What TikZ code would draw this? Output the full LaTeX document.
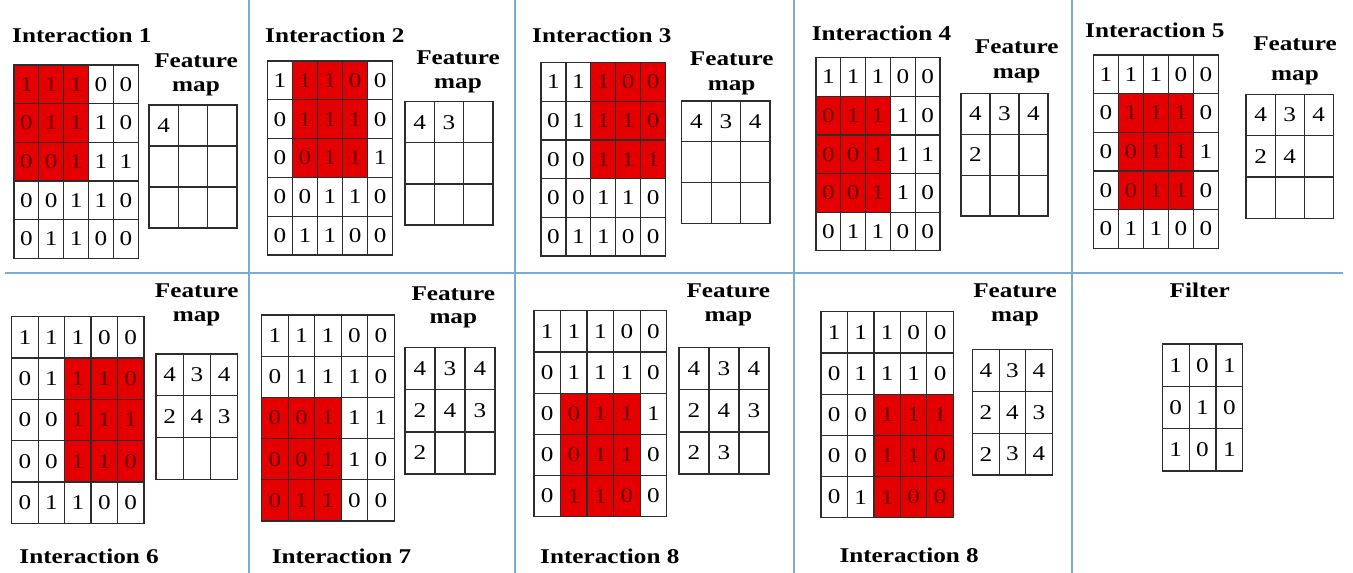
\documentclass[tikz,border=0pt]{standalone}
\usepackage{fontspec}
\setmainfont{Liberation Serif}[FakeStretch=1.2]
\definecolor{cellred}{RGB}{228,0,0}
\definecolor{redtext}{RGB}{105,0,0}
\definecolor{divider}{RGB}{125,170,212}
\definecolor{gridgray}{RGB}{45,45,45}
\tikzset{
  gridline/.style={draw=gridgray, line width=1.2pt, line cap=rect},
  digit/.style={font=\fontsize{21}{23}\selectfont, inner sep=0pt},
  titletext/.style={font=\fontsize{21}{23}\selectfont\bfseries, inner sep=0pt, anchor=base west},
  fmlabel/.style={font=\fontsize{21}{23}\selectfont\bfseries, inner sep=0pt, anchor=base},
  divline/.style={draw=divider, line width=1.2pt},
}
\newcommand\inputmat[7]{%
  \pgfmathsetmacro\cw{(#4-#2)/5}%
  \pgfmathsetmacro\ch{(#5-#3)/5}%
  \fill[cellred] (#2+#6*\cw,#3+#7*\ch) rectangle (#2+#6*\cw+3*\cw,#3+#7*\ch+3*\ch);
  \foreach \i in {0,...,5}{%
    \draw[gridline] (#2+\i*\cw,#3) -- (#2+\i*\cw,#5);
    \draw[gridline] (#2,#3+\i*\ch) -- (#4,#3+\i*\ch);
  }
  \foreach \rowvals [count=\r from 0] in {{1,1,1,0,0},{0,1,1,1,0},{0,0,1,1,1},{0,0,1,1,0},{0,1,1,0,0}}{%
    \foreach \v [count=\c from 0] in \rowvals {%
      \pgfmathtruncatemacro\isred{and(and(\c>=#6,\c<#6+3),and(\r>=#7,\r<#7+3))}%
      \ifnum\isred=1 \def\dcol{redtext}\else\def\dcol{black}\fi
      \node[digit, text=\dcol] (#1-\r-\c) at (#2+\c*\cw+0.5*\cw,#3+\r*\ch+0.5*\ch) {\v};
    }
  }
}
\newcommand\featmap[5]{%
  \pgfmathsetmacro\fw{(#4-#2)/3}%
  \pgfmathsetmacro\fh{(#5-#3)/3}%
  \foreach \i in {0,...,3}{%
    \draw[gridline] (#2+\i*\fw,#3) -- (#2+\i*\fw,#5);
    \draw[gridline] (#2,#3+\i*\fh) -- (#4,#3+\i*\fh);
  }
  \foreach \r in {0,1,2}{\foreach \c in {0,1,2}{%
    \coordinate (#1-\r-\c) at (#2+\c*\fw+0.5*\fw,#3+\r*\fh+0.5*\fh);}}
}
\newcommand\fvals[2]{%
  \foreach \r/\c/\v in {#2}{\node[digit] (#1v-\r-\c) at (#1-\r-\c) {\v};}
}
\begin{document}
\begin{tikzpicture}[x=1pt,y=-1pt]
\useasboundingbox (0,0) rectangle (1353,573);
% dividers
\draw[divline] (249,0) -- (249,573);
\draw[divline] (515,0) -- (515,573);
\draw[divline] (794,0) -- (794,573);
\draw[divline] (1072,0) -- (1072,573);
\draw[divline] (5,273) -- (1343,273);
% panel 1
\node[titletext] (t1) at (12,42) {Interaction 1};
\inputmat{m1}{14}{65}{138.3}{258.3}{0}{0}
\node[fmlabel] (f1a) at (196,67) {Feature};
\node[fmlabel] (f1b) at (196,91) {map};
\featmap{fm1}{149}{105}{237}{228}
\fvals{fm1}{0/0/4}
% panel 2
\node[titletext] (t2) at (265,42) {Interaction 2};
\inputmat{m2}{267.3}{61}{392.7}{255}{1}{0}
\node[fmlabel] (f2a) at (458,64) {Feature};
\node[fmlabel] (f2b) at (458,88) {map};
\featmap{fm2}{405}{101.7}{493}{225}
\fvals{fm2}{0/0/4,0/1/3}
% panel 3
\node[titletext] (t3) at (532,42) {Interaction 3};
\inputmat{m3}{541}{62.7}{665.7}{256}{2}{0}
\node[fmlabel] (f3a) at (731.7,65) {Feature};
\node[fmlabel] (f3b) at (731.7,90) {map};
\featmap{fm3}{681.7}{101}{770}{223.3}
\fvals{fm3}{0/0/4,0/1/3,0/2/4}
% panel 4
\node[titletext] (t4) at (811.7,40.3) {Interaction 4};
\inputmat{m4}{816}{57.7}{940}{250.7}{0}{1}
\node[fmlabel] (f4a) at (1016.7,53.7) {Feature};
\node[fmlabel] (f4b) at (1016.7,78) {map};
\featmap{fm4}{961}{93.3}{1048}{216}
\fvals{fm4}{0/0/4,0/1/3,0/2/4,1/0/2}
% panel 5
\node[titletext] (t5) at (1085,37) {Interaction 5};
\inputmat{m5}{1093.3}{55}{1218.3}{248.3}{1}{1}
\node[fmlabel] (f5a) at (1295,50.3) {Feature};
\node[fmlabel] (f5b) at (1295,80) {map};
\featmap{fm5}{1246}{94.3}{1333.3}{218.3}
\fvals{fm5}{0/0/4,0/1/3,0/2/4,1/0/2,1/1/4}
% panel 6
\inputmat{m6}{11.7}{316.7}{144}{523.3}{2}{1}
\node[fmlabel] (f6a) at (196.7,297) {Feature};
\node[fmlabel] (f6b) at (196.7,321.7) {map};
\featmap{fm6}{156}{354}{237.7}{479.3}
\fvals{fm6}{0/0/4,0/1/3,0/2/4,1/0/2,1/1/4,1/2/3}
\node[titletext] (t6) at (19.3,563.7) {Interaction 6};
% panel 7
\inputmat{m7}{261.7}{315}{394.3}{521}{0}{2}
\node[fmlabel] (f7a) at (453.3,300.3) {Feature};
\node[fmlabel] (f7b) at (453.3,323.3) {map};
\featmap{fm7}{405}{347.7}{495}{474}
\fvals{fm7}{0/0/4,0/1/3,0/2/4,1/0/2,1/1/4,1/2/3,2/0/2}
\node[titletext] (t7) at (271.7,563.7) {Interaction 7};
% panel 8
\inputmat{m8}{534}{310.7}{666.7}{516.7}{1}{2}
\node[fmlabel] (f8a) at (728.3,297) {Feature};
\node[fmlabel] (f8b) at (728.3,321.7) {map};
\featmap{fm8}{679}{347.7}{769}{474}
\fvals{fm8}{0/0/4,0/1/3,0/2/4,1/0/2,1/1/4,1/2/3,2/0/2,2/1/3}
\node[titletext] (t8) at (540,563.7) {Interaction 8};
% panel 9
\inputmat{m9}{821}{311.7}{953.3}{517.7}{2}{2}
\node[fmlabel] (f9a) at (1015,297) {Feature};
\node[fmlabel] (f9b) at (1015,321.7) {map};
\featmap{fm9}{972.7}{349.3}{1052.3}{475}
\fvals{fm9}{0/0/4,0/1/3,0/2/4,1/0/2,1/1/4,1/2/3,2/0/2,2/1/3,2/2/4}
\node[titletext] (t9) at (839.3,562) {Interaction 8};
% panel 10: filter
\node[fmlabel] (filt) at (1199.7,297) {Filter};
\featmap{flt}{1162.3}{344}{1242.7}{471}
\fvals{flt}{0/0/1,0/1/0,0/2/1,1/0/0,1/1/1,1/2/0,2/0/1,2/1/0,2/2/1}
\end{tikzpicture}
\end{document}
